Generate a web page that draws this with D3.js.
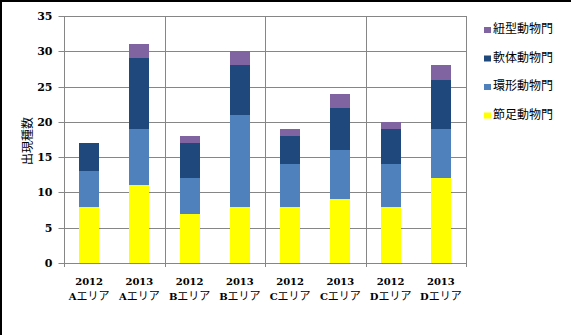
<!DOCTYPE html>
<html>
<head>
<meta charset="utf-8">
<script src="https://cdn.jsdelivr.net/npm/d3@7"></script>
<style>
  html, body { margin: 0; padding: 0; background: #fff; }
  svg { display: block; }
</style>
</head>
<body>
<svg id="chart" width="571" height="335"></svg>
<script>
// Survey results: number of species observed per phylum, by area and year
const years = ["2012", "2013", "2012", "2013", "2012", "2013", "2012", "2013"];
const areas = ["Aエリア", "Aエリア", "Bエリア", "Bエリア", "Cエリア", "Cエリア", "Dエリア", "Dエリア"];
const seriesNames = ["節足動物門", "環形動物門", "軟体動物門", "紐型動物門"];
const arthropoda = [8, 11, 7, 8, 8, 9, 8, 12];
const annelida   = [5, 8, 5, 13, 6, 7, 6, 7];
const mollusca   = [4, 10, 5, 7, 4, 6, 5, 7];
const nemertea   = [0, 2, 1, 2, 1, 2, 1, 2];
const yTicks = [0, 5, 10, 15, 20, 25, 30, 35];
const colors = ["#FFFF00", "#4F81BD", "#1F497D", "#8064A2"];

const svg = d3.select("#chart");
const gridColor = "#868686";
const plot = { left: 64, right: 466, top: 16, bottom: 263 };

// outer frame (left and top edges)
svg.append("line").attr("x1", 1).attr("x2", 1).attr("y1", 0).attr("y2", 335)
  .attr("stroke", "#000").attr("stroke-width", 2);
svg.append("line").attr("x1", 0).attr("x2", 571).attr("y1", 1).attr("y2", 1)
  .attr("stroke", "#000").attr("stroke-width", 2);

const idx = d3.range(years.length);
const x = d3.scaleBand().domain(idx).range([plot.left, plot.right]).paddingInner(0).paddingOuter(0);
const y = d3.scaleLinear().domain([0, 35]).range([plot.bottom, plot.top]);
const yr = v => Math.round(y(v));

const table = idx.map(i => ({
  i,
  [seriesNames[0]]: arthropoda[i],
  [seriesNames[1]]: annelida[i],
  [seriesNames[2]]: mollusca[i],
  [seriesNames[3]]: nemertea[i]
}));
const stacked = d3.stack().keys(seriesNames)(table);

// horizontal gridlines
svg.append("g").selectAll("line").data(yTicks.filter(t => t > 0)).join("line")
  .attr("x1", plot.left).attr("x2", plot.right)
  .attr("y1", d => yr(d) + 0.5).attr("y2", d => yr(d) + 0.5)
  .attr("stroke", gridColor).attr("stroke-width", 1);

// vertical separators between area groups
const groupEdges = [2, 4, 6, 8];
const edgeX = k => Math.round(plot.left + k * x.step()) + 0.5;
svg.append("g").selectAll("line").data(groupEdges).join("line")
  .attr("x1", edgeX).attr("x2", edgeX)
  .attr("y1", plot.top).attr("y2", plot.bottom + 4)
  .attr("stroke", gridColor).attr("stroke-width", 1);

// bars
const barW = 20;
svg.append("g").attr("shape-rendering", "crispEdges").selectAll("g").data(stacked).join("g")
  .attr("fill", (d, k) => colors[k])
  .selectAll("rect").data(d => d.filter(s => s[1] > s[0])).join("rect")
  .attr("x", d => Math.round(x(d.data.i) + x.bandwidth() / 2 - barW / 2))
  .attr("width", barW)
  .attr("y", d => yr(d[1]))
  .attr("height", d => yr(d[0]) - yr(d[1]));

// y axis
const yAxis = d3.axisLeft(y).tickValues(yTicks).tickSize(6).tickPadding(6);
const gy = svg.append("g").attr("transform", `translate(${plot.left + 0.5},0)`).call(yAxis);
gy.select(".domain").attr("stroke", gridColor).attr("d", `M0,${plot.top}V${plot.bottom + 1}`);
gy.selectAll(".tick").attr("transform", d => `translate(0,${yr(d) + 0.5})`);
gy.selectAll(".tick line").attr("stroke", gridColor);
gy.selectAll(".tick text")
  .attr("font-family", "'DejaVu Serif', serif").attr("font-weight", "bold")
  .attr("font-size", 11).attr("fill", "#000");

// x axis baseline and tick at the left edge
svg.append("line").attr("x1", plot.left).attr("x2", plot.right + 1)
  .attr("y1", plot.bottom + 0.5).attr("y2", plot.bottom + 0.5)
  .attr("stroke", gridColor);
svg.append("line").attr("x1", plot.left + 0.5).attr("x2", plot.left + 0.5)
  .attr("y1", plot.bottom).attr("y2", plot.bottom + 4).attr("stroke", gridColor);

// category labels (year / area)
const lab = svg.append("g").selectAll("text").data(idx).join("text")
  .attr("x", i => x(i) + x.bandwidth() / 2)
  .attr("text-anchor", "middle").attr("fill", "#000");
lab.append("tspan").attr("x", i => x(i) + x.bandwidth() / 2).attr("y", 285)
  .attr("font-family", "'DejaVu Serif', serif").attr("font-weight", "bold").attr("font-size", 10)
  .text(i => years[i]);
const line2 = lab.append("tspan").attr("x", i => x(i) + x.bandwidth() / 2).attr("y", 300);
line2.append("tspan")
  .attr("font-family", "'DejaVu Serif', serif").attr("font-weight", "bold").attr("font-size", 10)
  .text(i => areas[i].slice(0, 1));
line2.append("tspan")
  .attr("font-family", "'Noto Sans CJK JP', sans-serif").attr("font-size", 11)
  .text(i => areas[i].slice(1));

// y axis title
svg.append("text")
  .attr("transform", "translate(32,141) rotate(-90)")
  .attr("text-anchor", "middle")
  .attr("font-family", "'Noto Sans CJK JP', sans-serif").attr("font-size", 12)
  .attr("fill", "#000")
  .text("出現種数");

// legend (top entry is the top of the stack)
const legendOrder = [3, 2, 1, 0];
const legend = svg.append("g").selectAll("g").data(legendOrder).join("g")
  .attr("transform", (k, j) => `translate(484,${33 + j * 28.5})`);
legend.append("rect").attr("x", 0).attr("y", -6).attr("width", 7).attr("height", 6)
  .attr("fill", k => colors[k]);
legend.append("text").attr("x", 9).attr("y", 0)
  .attr("font-family", "'Noto Sans CJK JP', sans-serif").attr("font-size", 12)
  .attr("fill", "#000")
  .text(k => seriesNames[k]);
</script>
</body>
</html>
